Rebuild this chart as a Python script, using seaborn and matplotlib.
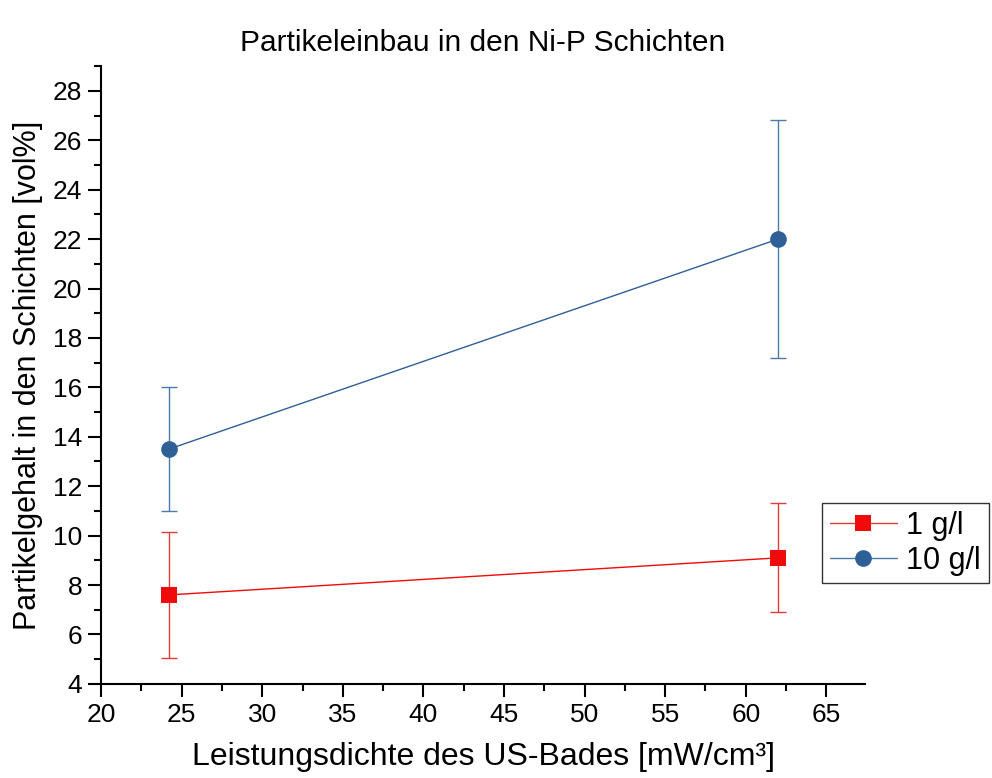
import pandas as pd
import matplotlib
matplotlib.use("Agg")
import matplotlib.pyplot as plt
import seaborn as sns
from matplotlib.ticker import MultipleLocator

# Data
power_density = [24.2, 62.0]
content_1gl = [7.6, 9.1]
err_1gl = [2.55, 2.2]
content_10gl = [13.5, 22.0]
err_10gl = [2.5, 4.8]
series_names = ["1 g/l", "10 g/l"]
colors = {"1 g/l": "#F00A0A", "10 g/l": "#2F5F97"}
line_colors = {"1 g/l": "#E23B3B", "10 g/l": "#4D7AA8"}
markers = {"1 g/l": "s", "10 g/l": "o"}

df = pd.DataFrame({
    "x": power_density * 2,
    "y": content_1gl + content_10gl,
    "err": err_1gl + err_10gl,
    "Serie": [series_names[0]] * 2 + [series_names[1]] * 2,
})

sns.set_style("ticks")
plt.rcParams["font.family"] = ["Liberation Sans", "DejaVu Sans"]
plt.rcParams["text.color"] = "black"
plt.rcParams["axes.labelcolor"] = "black"
plt.rcParams["xtick.color"] = "black"
plt.rcParams["ytick.color"] = "black"

fig = plt.figure(figsize=(9.92, 7.78), dpi=100)
ax = fig.add_axes([0.102, 0.121, 0.770, 0.794])

for name in series_names:
    sub = df[df["Serie"] == name]
    ax.errorbar(sub["x"], sub["y"], yerr=sub["err"], fmt="none",
                ecolor=line_colors[name], elinewidth=1.0, capsize=6, capthick=1.0, zorder=2)

sns.lineplot(data=df, x="x", y="y", hue="Serie", style="Serie",
             palette=colors, markers=markers, dashes=False,
             markersize=12, linewidth=1.0, markeredgewidth=0,
             ax=ax, zorder=3)
for line, name in zip(ax.get_lines()[-2:], series_names):
    line.set_color(line_colors[name])
    line.set_markerfacecolor(colors[name])

ax.set_xlim(20, 67.4)
ax.set_ylim(4, 29)
ax.xaxis.set_major_locator(MultipleLocator(5))
ax.xaxis.set_minor_locator(MultipleLocator(2.5))
ax.yaxis.set_major_locator(MultipleLocator(2))
ax.yaxis.set_minor_locator(MultipleLocator(1))
ax.tick_params(which="major", length=9.5, width=1.5, labelsize=19, pad=4,
               direction="out", color="black")
ax.tick_params(which="minor", length=5, width=1.5, direction="out", color="black")
sns.despine(ax=ax)
for sp in ["left", "bottom"]:
    ax.spines[sp].set_linewidth(1.5)
    ax.spines[sp].set_color("black")

ax.set_xlabel("Leistungsdichte des US-Bades [mW/cm³]", fontsize=23, labelpad=11)
ax.set_ylabel("Partikelgehalt in den Schichten [vol%]", fontsize=22, labelpad=7)
ax.set_title("Partikeleinbau in den Ni-P Schichten", fontsize=21.5, pad=11)

handles, labels = ax.get_legend_handles_labels()
leg = ax.legend(handles, labels, loc="upper left", bbox_to_anchor=(0.944, 0.292),
                frameon=True, fancybox=False, edgecolor="black", fontsize=22,
                handlelength=2.2, borderpad=0.25, labelspacing=0.15, handletextpad=0.3,
                borderaxespad=0)
leg.get_frame().set_linewidth(1.0)

fig.savefig("out.png", dpi=100)
